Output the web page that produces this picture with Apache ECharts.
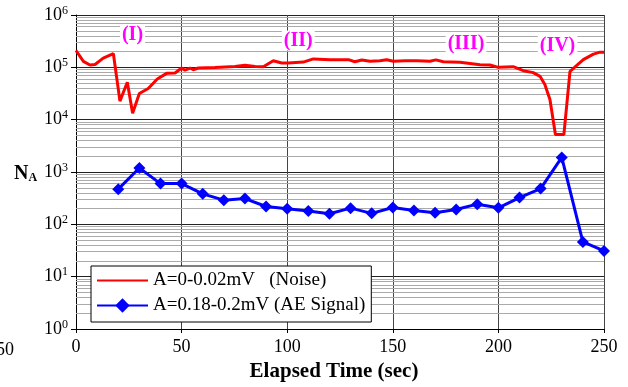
<!DOCTYPE html>
<html>
<head>
<meta charset="utf-8">
<script src="https://cdn.jsdelivr.net/npm/echarts@6/dist/echarts.min.js"></script>
<style>
  html, body { margin: 0; padding: 0; background: #fff; }
  #chart { width: 628px; height: 387px; }
</style>
</head>
<body>
<div id="chart"></div>
<script>
// Noise band counts (A = 0-0.02 mV) against elapsed time
var noiseTime = [0, 3.5, 6.6, 9, 12.9, 17.7, 20.8, 24.3, 26.8, 30, 34.2, 38.5, 42.9, 46.9,
  50, 51.6, 54, 55.5, 57.9, 65.8, 75.3, 80, 84.8, 88.7, 93.4, 97.4, 100.5, 107.6, 112.4,
  120.3, 129, 132, 135.3, 139.2, 143.9, 147.1, 150.2, 156, 161.5, 167.6, 170.4, 173.9,
  181.8, 191.3, 196, 200, 207, 211.8, 216.5, 219.7, 222, 224.4, 227, 231, 233.9, 240.2,
  245, 248.1, 250];
var noiseCount = [210000, 130000, 111000, 113000, 150000, 182000, 22600, 51800, 13200, 31600,
  39300, 60000, 76700, 78000, 97000, 88000, 97000, 90000, 97000, 99000, 104000, 110000,
  104000, 103000, 134000, 121000, 121000, 126000, 145000, 140000, 140000, 128000, 138000,
  131000, 134000, 140000, 131000, 134000, 133000, 131000, 139000, 128000, 125000, 112000,
  111000, 100000, 103000, 86400, 79200, 67300, 46900, 24300, 5200, 5200, 83800, 140000,
  179000, 195000, 195000];

// AE signal band counts (A = 0.18-0.2 mV), sampled every 10 s
var aeTime = [20, 30, 40, 50, 60, 70, 80, 90, 100, 110, 120, 130, 140, 150, 160, 170, 180,
  190, 200, 210, 220, 230, 240, 250];
var aeCount = [470, 1190, 600, 600, 382, 290, 311, 219, 198, 179, 159, 204, 162, 210, 184,
  166, 192, 243, 207, 325, 482, 1900, 46, 31];

// Axis ticks
var xTicks = [0, 50, 100, 150, 200, 250];
var yExponents = [0, 1, 2, 3, 4, 5, 6];

// Region labels
var regionNames = ['(I)', '(II)', '(III)', '(IV)'];

var seriesNames = ['A=0-0.02mV   (Noise)', 'A=0.18-0.2mV (AE Signal)'];

var serif = '"Liberation Serif", "Times New Roman", "DejaVu Serif", serif';

function pairs(xs, ys) {
  return xs.map(function (x, i) { return [x, ys[i]]; });
}

// minor log grid values 2..9 within each decade
var minorValues = [];
for (var d = 0; d < yExponents.length - 1; d++) {
  for (var m = 2; m <= 9; m++) minorValues.push(m * Math.pow(10, yExponents[d]));
}

var chart = echarts.init(document.getElementById('chart'), null, { renderer: 'canvas' });

var option = {
  animation: false,
  backgroundColor: '#fff',
  grid: { left: 76, right: 24, top: 15, bottom: 56 },
  xAxis: {
    type: 'value',
    min: xTicks[0],
    max: xTicks[xTicks.length - 1],
    interval: 50,
    name: 'Elapsed Time (sec)',
    nameLocation: 'middle',
    nameGap: 32,
    nameTextStyle: {
      fontFamily: serif, fontSize: 21, fontWeight: 'bold', color: '#000',
      padding: [0, 12, 0, 0]
    },
    axisLine: { lineStyle: { color: '#000', width: 1 } },
    axisTick: { show: true, length: 4, inside: false, lineStyle: { color: '#000' } },
    axisLabel: { fontFamily: serif, fontSize: 18, color: '#000', margin: 9 },
    splitLine: { show: true, lineStyle: { color: '#444', width: 1 } }
  },
  yAxis: {
    type: 'log',
    logBase: 10,
    min: Math.pow(10, yExponents[0]),
    max: Math.pow(10, yExponents[yExponents.length - 1]),
    axisLine: { show: true, lineStyle: { color: '#000', width: 1 } },
    axisTick: { show: true, length: 5, lineStyle: { color: '#000' } },
    axisLabel: {
      margin: 8,
      formatter: function (v) {
        var e = Math.round(Math.log10(v));
        return '{b|10}{s|' + e + '}';
      },
      rich: {
        b: { fontFamily: serif, fontSize: 18, color: '#000' },
        s: { fontFamily: serif, fontSize: 12, color: '#000', padding: [0, 0, 9, 0] }
      }
    },
    splitLine: { show: true, lineStyle: { color: '#222', width: 1 } }
  },
  legend: {
    data: [
      { name: seriesNames[0], itemStyle: { opacity: 0 } },
      { name: seriesNames[1] }
    ],
    orient: 'vertical',
    left: 91,
    top: 266,
    z: 10,
    itemWidth: 51,
    itemHeight: 18,
    itemGap: 6,
    padding: [5, 6, 7, 5],
    backgroundColor: '#fff',
    borderColor: '#000',
    borderWidth: 1,
    borderRadius: 0,
    textStyle: { fontFamily: serif, fontSize: 19, color: '#000', lineHeight: 14 }
  },
  series: [
    {
      name: 'minor-grid',
      type: 'line',
      data: [],
      silent: true,
      z: 1,
      markLine: {
        silent: true,
        z: 1,
        symbol: ['none', 'none'],
        label: { show: false },
        animation: false,
        lineStyle: { color: '#aaa', width: 1, type: 'solid' },
        emphasis: { disabled: true },
        data: minorValues.map(function (v) { return { yAxis: v }; })
      }
    },
    {
      name: seriesNames[0],
      type: 'line',
      data: pairs(noiseTime, noiseCount),
      showSymbol: false,
      symbol: 'none',
      smooth: false,
      z: 3,
      lineStyle: { color: '#ff0000', width: 3 },
      itemStyle: { color: '#ff0000' }
    },
    {
      name: seriesNames[1],
      type: 'line',
      data: pairs(aeTime, aeCount),
      symbol: 'diamond',
      symbolSize: 12,
      z: 4,
      lineStyle: { color: '#0000ff', width: 3 },
      itemStyle: { color: '#0000ff' }
    }
  ],
  graphic: [
    // y-axis title N_A
    {
      type: 'text', left: 14, top: 164, z: 10,
      style: {
        text: '{n|N}{a|A}',
        rich: {
          n: { fontFamily: serif, fontSize: 20, fontWeight: 'bold', fill: '#000' },
          a: { fontFamily: serif, fontSize: 12, fontWeight: 'bold', fill: '#000', padding: [8, 0, 0, 0] }
        }
      }
    },
    // tick label of the neighbouring panel, cut by the page edge
    {
      type: 'text', x: 14, y: 341, z: 10,
      style: { text: '250', fill: '#000', align: 'right', font: '18px ' + serif }
    }
  ]
};

// region labels in magenta on white
var regionPos = [[132.5, 35], [298.3, 40.5], [466, 44], [557.5, 46]];
regionNames.forEach(function (t, i) {
  option.graphic.push({
    type: 'text', x: regionPos[i][0], y: regionPos[i][1], z: 20,
    style: {
      text: t, fill: '#ff00ff', align: 'center', verticalAlign: 'middle',
      font: 'bold 20px ' + serif, backgroundColor: '#fff', padding: [0, 2]
    }
  });
});

chart.setOption(option);
</script>
</body>
</html>
